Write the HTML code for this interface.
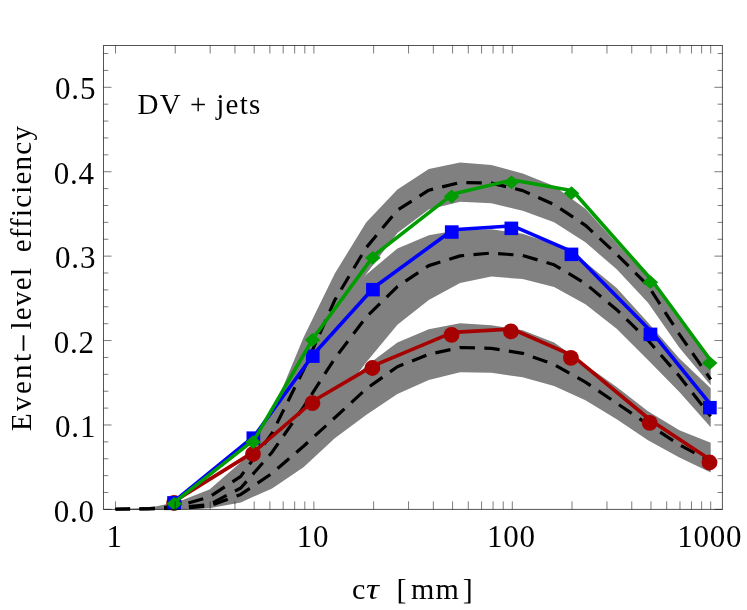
<!DOCTYPE html><html><head><meta charset="utf-8"><style>html,body{margin:0;padding:0;background:#fff}body{width:747px;height:610px;position:relative;overflow:hidden;font-family:"Liberation Serif",serif}</style></head><body><svg width="747" height="610" viewBox="0 0 747 610" style="position:absolute;left:0;top:0">
<rect width="747" height="610" fill="#fff"/>
<defs><clipPath id="cp"><rect x="103.5" y="45.5" width="618.9" height="464.9"/></clipPath></defs>
<g clip-path="url(#cp)">
<polygon points="115.5,509.2 146.8,508.3 178.2,501.8 209.5,489.6 240.8,462.3 272.1,413.0 303.5,337.5 334.8,273.5 366.1,222.5 397.4,189.5 428.8,169.1 460.1,162.4 491.4,165.1 522.7,173.4 554.1,186.1 585.4,208.8 616.7,243.3 648.0,277.3 679.4,320.2 710.7,360.0 710.7,385.3 679.4,347.8 648.0,302.8 616.7,269.3 585.4,242.3 554.1,222.2 522.7,210.7 491.4,203.2 460.1,201.8 428.8,209.6 397.4,233.0 366.1,274.2 334.8,335.0 303.5,398.0 272.1,450.0 240.8,485.0 209.5,500.0 178.2,507.0 146.8,509.0 115.5,509.4" fill="#808080"/>
<polygon points="115.5,509.3 146.8,508.5 178.2,504.0 209.5,495.0 240.8,475.0 272.1,435.0 303.5,375.0 334.8,320.0 366.1,274.8 397.4,248.4 428.8,235.3 460.1,229.7 491.4,229.3 522.7,233.8 554.1,244.3 585.4,262.2 616.7,288.0 648.0,322.4 679.4,358.4 710.7,388.3 710.7,427.3 679.4,392.1 648.0,360.0 616.7,328.8 585.4,304.2 554.1,287.1 522.7,279.1 491.4,276.5 460.1,283.1 428.8,300.0 397.4,324.8 366.1,362.4 334.8,405.0 303.5,445.0 272.1,475.0 240.8,495.0 209.5,504.0 178.2,508.0 146.8,509.2 115.5,509.4" fill="#808080"/>
<polygon points="115.5,509.3 146.8,508.8 178.2,506.0 209.5,499.0 240.8,488.0 272.1,462.0 303.5,430.0 334.8,395.0 366.1,366.0 397.4,342.5 428.8,329.3 460.1,323.3 491.4,325.3 522.7,330.3 554.1,342.4 585.4,364.8 616.7,387.1 648.0,411.2 679.4,430.3 710.7,442.7 710.7,472.4 679.4,457.4 648.0,440.3 616.7,419.2 585.4,400.2 554.1,386.0 522.7,377.2 491.4,372.8 460.1,372.2 428.8,380.0 397.4,393.9 366.1,415.1 334.8,438.2 303.5,467.3 272.1,488.4 240.8,502.4 209.5,508.3 178.2,509.4 146.8,509.4 115.5,509.4" fill="#808080"/>
<polyline points="115.5,509.3 146.8,508.8 178.2,506.0 209.5,497.0 240.8,476.3 272.1,433.2 303.5,370.0 334.8,300.1 366.1,247.8 397.4,210.2 428.8,190.2 460.1,182.5 491.4,183.1 522.7,190.6 554.1,204.6 585.4,225.3 616.7,254.2 648.0,285.6 679.4,334.3 710.7,379.4" fill="none" stroke="#000" stroke-width="3.2" stroke-dasharray="15.4 9.35" stroke-dashoffset="0.8" stroke-linejoin="round"/>
<polyline points="115.5,509.3 146.8,509.0 178.2,507.5 209.5,504.5 240.8,488.0 272.1,452.2 303.5,407.1 334.8,358.4 366.1,317.2 397.4,286.6 428.8,265.6 460.1,255.9 491.4,253.0 522.7,255.5 554.1,264.8 585.4,283.6 616.7,309.7 648.0,340.3 679.4,376.2 710.7,416.2" fill="none" stroke="#000" stroke-width="3.2" stroke-dasharray="15.4 9.35" stroke-dashoffset="0.8" stroke-linejoin="round"/>
<polyline points="115.5,509.3 146.8,509.1 178.2,508.5 209.5,506.0 240.8,494.4 272.1,473.3 303.5,446.2 334.8,417.7 366.1,389.0 397.4,366.7 428.8,354.3 460.1,347.5 491.4,348.4 522.7,353.3 554.1,364.5 585.4,382.1 616.7,403.2 648.0,424.3 679.4,444.7 710.7,461.5" fill="none" stroke="#000" stroke-width="3.2" stroke-dasharray="15.4 9.35" stroke-dashoffset="0.8" stroke-linejoin="round"/>
</g>
<polyline points="175.3,500.6 254.2,451.6 313.6,400.8 373.6,365.6 452.8,332.4 512.1,329.0 572.1,355.4 650.9,420.5 710.7,460.1" fill="none" stroke="#a60000" stroke-width="3.6" stroke-linejoin="round"/>
<circle cx="174.1" cy="503.0" r="7.9" fill="#a60000"/>
<circle cx="253.0" cy="454.0" r="7.9" fill="#a60000"/>
<circle cx="312.4" cy="403.2" r="7.9" fill="#a60000"/>
<circle cx="372.4" cy="368.0" r="7.9" fill="#a60000"/>
<circle cx="451.6" cy="334.8" r="7.9" fill="#a60000"/>
<circle cx="510.9" cy="331.4" r="7.9" fill="#a60000"/>
<circle cx="570.9" cy="357.8" r="7.9" fill="#a60000"/>
<circle cx="649.7" cy="422.9" r="7.9" fill="#a60000"/>
<circle cx="709.5" cy="462.5" r="7.9" fill="#a60000"/>
<polyline points="175.3,500.4 254.5,435.8 314.0,353.7 374.2,287.3 453.0,229.7 512.6,225.9 572.7,251.9 651.7,331.9 711.1,405.2" fill="none" stroke="#0000ff" stroke-width="3.6" stroke-linejoin="round"/>
<rect x="167.2" y="496.1" width="13.7" height="13.5" fill="#0000ff"/>
<rect x="246.5" y="431.4" width="13.7" height="13.5" fill="#0000ff"/>
<rect x="305.9" y="349.4" width="13.7" height="13.5" fill="#0000ff"/>
<rect x="366.1" y="282.9" width="13.7" height="13.5" fill="#0000ff"/>
<rect x="444.9" y="225.3" width="13.7" height="13.5" fill="#0000ff"/>
<rect x="504.5" y="221.6" width="13.7" height="13.5" fill="#0000ff"/>
<rect x="564.6" y="247.6" width="13.7" height="13.5" fill="#0000ff"/>
<rect x="643.6" y="327.6" width="13.7" height="13.5" fill="#0000ff"/>
<rect x="703.0" y="400.9" width="13.7" height="13.5" fill="#0000ff"/>
<polyline points="175.5,501.4 254.3,439.7 313.7,337.5 374.0,255.4 452.8,194.1 512.6,179.9 572.7,190.8 651.5,279.8 710.9,360.7" fill="none" stroke="#009c00" stroke-width="3.6" stroke-linejoin="round"/>
<polygon points="166.5,503.8 174.3,496.9 182.1,503.8 174.3,510.7" fill="#009c00"/>
<polygon points="245.3,442.1 253.1,435.2 260.9,442.1 253.1,449.0" fill="#009c00"/>
<polygon points="304.7,339.9 312.5,333.0 320.3,339.9 312.5,346.8" fill="#009c00"/>
<polygon points="365.0,257.8 372.8,250.9 380.6,257.8 372.8,264.7" fill="#009c00"/>
<polygon points="443.8,196.5 451.6,189.6 459.4,196.5 451.6,203.4" fill="#009c00"/>
<polygon points="503.6,182.3 511.4,175.4 519.2,182.3 511.4,189.2" fill="#009c00"/>
<polygon points="563.7,193.2 571.5,186.3 579.3,193.2 571.5,200.1" fill="#009c00"/>
<polygon points="642.5,282.2 650.3,275.3 658.1,282.2 650.3,289.1" fill="#009c00"/>
<polygon points="701.9,363.1 709.7,356.2 717.5,363.1 709.7,370.0" fill="#009c00"/>
<path d="M115.50 509.40v-8.00M115.50 45.50v8.00M175.22 509.40v-8.00M175.22 45.50v8.00M210.16 509.40v-8.00M210.16 45.50v8.00M234.95 509.40v-8.00M234.95 45.50v8.00M254.18 509.40v-8.00M254.18 45.50v8.00M269.89 509.40v-8.00M269.89 45.50v8.00M283.17 509.40v-8.00M283.17 45.50v8.00M294.67 509.40v-8.00M294.67 45.50v8.00M304.82 509.40v-8.00M304.82 45.50v8.00M313.90 509.40v-8.00M313.90 45.50v8.00M373.62 509.40v-8.00M373.62 45.50v8.00M408.56 509.40v-8.00M408.56 45.50v8.00M433.35 509.40v-8.00M433.35 45.50v8.00M452.58 509.40v-8.00M452.58 45.50v8.00M468.29 509.40v-8.00M468.29 45.50v8.00M481.57 509.40v-8.00M481.57 45.50v8.00M493.07 509.40v-8.00M493.07 45.50v8.00M503.22 509.40v-8.00M503.22 45.50v8.00M512.30 509.40v-8.00M512.30 45.50v8.00M572.02 509.40v-8.00M572.02 45.50v8.00M606.96 509.40v-8.00M606.96 45.50v8.00M631.75 509.40v-8.00M631.75 45.50v8.00M650.98 509.40v-8.00M650.98 45.50v8.00M666.69 509.40v-8.00M666.69 45.50v8.00M679.97 509.40v-8.00M679.97 45.50v8.00M691.47 509.40v-8.00M691.47 45.50v8.00M701.62 509.40v-8.00M701.62 45.50v8.00M710.70 509.40v-8.00M710.70 45.50v8.00M103.50 509.40h8.00M722.40 509.40h-8.00M103.50 492.52h4.80M722.40 492.52h-4.80M103.50 475.63h4.80M722.40 475.63h-4.80M103.50 458.75h4.80M722.40 458.75h-4.80M103.50 441.86h4.80M722.40 441.86h-4.80M103.50 424.98h8.00M722.40 424.98h-8.00M103.50 408.10h4.80M722.40 408.10h-4.80M103.50 391.21h4.80M722.40 391.21h-4.80M103.50 374.33h4.80M722.40 374.33h-4.80M103.50 357.44h4.80M722.40 357.44h-4.80M103.50 340.56h8.00M722.40 340.56h-8.00M103.50 323.68h4.80M722.40 323.68h-4.80M103.50 306.79h4.80M722.40 306.79h-4.80M103.50 289.91h4.80M722.40 289.91h-4.80M103.50 273.02h4.80M722.40 273.02h-4.80M103.50 256.14h8.00M722.40 256.14h-8.00M103.50 239.26h4.80M722.40 239.26h-4.80M103.50 222.37h4.80M722.40 222.37h-4.80M103.50 205.49h4.80M722.40 205.49h-4.80M103.50 188.60h4.80M722.40 188.60h-4.80M103.50 171.72h8.00M722.40 171.72h-8.00M103.50 154.84h4.80M722.40 154.84h-4.80M103.50 137.95h4.80M722.40 137.95h-4.80M103.50 121.07h4.80M722.40 121.07h-4.80M103.50 104.18h4.80M722.40 104.18h-4.80M103.50 87.30h8.00M722.40 87.30h-8.00M103.50 70.42h4.80M722.40 70.42h-4.80M103.50 53.53h4.80M722.40 53.53h-4.80" stroke="#000" stroke-opacity="0.58" stroke-width="0.9" fill="none"/>
<rect x="103.5" y="45.5" width="618.9" height="463.9" fill="none" stroke="#000" stroke-opacity="0.67" stroke-width="1"/>
<g style="will-change:opacity;opacity:0.999">
<text x="94.9" y="521.5" font-size="31" letter-spacing="0.8" text-anchor="end" font-family="Liberation Serif, serif" fill="#000">0.0</text>
<text x="96.2" y="437.1" font-size="31" letter-spacing="0.8" text-anchor="end" font-family="Liberation Serif, serif" fill="#000">0.1</text>
<text x="94.9" y="352.7" font-size="31" letter-spacing="0.8" text-anchor="end" font-family="Liberation Serif, serif" fill="#000">0.2</text>
<text x="96.2" y="268.2" font-size="31" letter-spacing="0.8" text-anchor="end" font-family="Liberation Serif, serif" fill="#000">0.3</text>
<text x="94.9" y="183.8" font-size="31" letter-spacing="0.8" text-anchor="end" font-family="Liberation Serif, serif" fill="#000">0.4</text>
<text x="96.2" y="99.4" font-size="31" letter-spacing="0.8" text-anchor="end" font-family="Liberation Serif, serif" fill="#000">0.5</text>
<text x="114.6" y="547.4" font-size="31" letter-spacing="0.8" text-anchor="middle" font-family="Liberation Serif, serif" fill="#000">1</text>
<text x="313.0" y="547.4" font-size="31" letter-spacing="0.8" text-anchor="middle" font-family="Liberation Serif, serif" fill="#000">10</text>
<text x="511.4" y="547.4" font-size="31" letter-spacing="0.8" text-anchor="middle" font-family="Liberation Serif, serif" fill="#000">100</text>
<text x="709.8" y="547.4" font-size="31" letter-spacing="0.8" text-anchor="middle" font-family="Liberation Serif, serif" fill="#000">1000</text>
<text transform="translate(366.0,599.2) scale(1.2,1)" font-size="30" font-style="italic" font-family="Liberation Serif, serif" fill="#000">τ</text>
<text x="137.5" y="114.1" font-size="29" letter-spacing="1.3" font-family="Liberation Serif, serif" fill="#000">DV + jets</text>
<text y="599.2" font-size="30" font-family="Liberation Serif, serif" fill="#000"><tspan x="351.9">c</tspan><tspan x="396.5">[</tspan><tspan x="411">m</tspan><tspan x="435.6">m</tspan><tspan x="462.8">]</tspan></text>
<text transform="translate(31,430.9) rotate(-90)" font-size="29" letter-spacing="2.30" font-family="Liberation Serif, serif" fill="#000">Event</text>
<text transform="translate(31,329.6) rotate(-90)" font-size="29" letter-spacing="1.30" font-family="Liberation Serif, serif" fill="#000">level</text>
<text transform="translate(31,252.3) rotate(-90)" font-size="29" letter-spacing="1.20" font-family="Liberation Serif, serif" fill="#000">efficiency</text>
<rect x="22.6" y="335.3" width="1.8" height="15.5" fill="#000"/>
</g>
</svg></body></html>
